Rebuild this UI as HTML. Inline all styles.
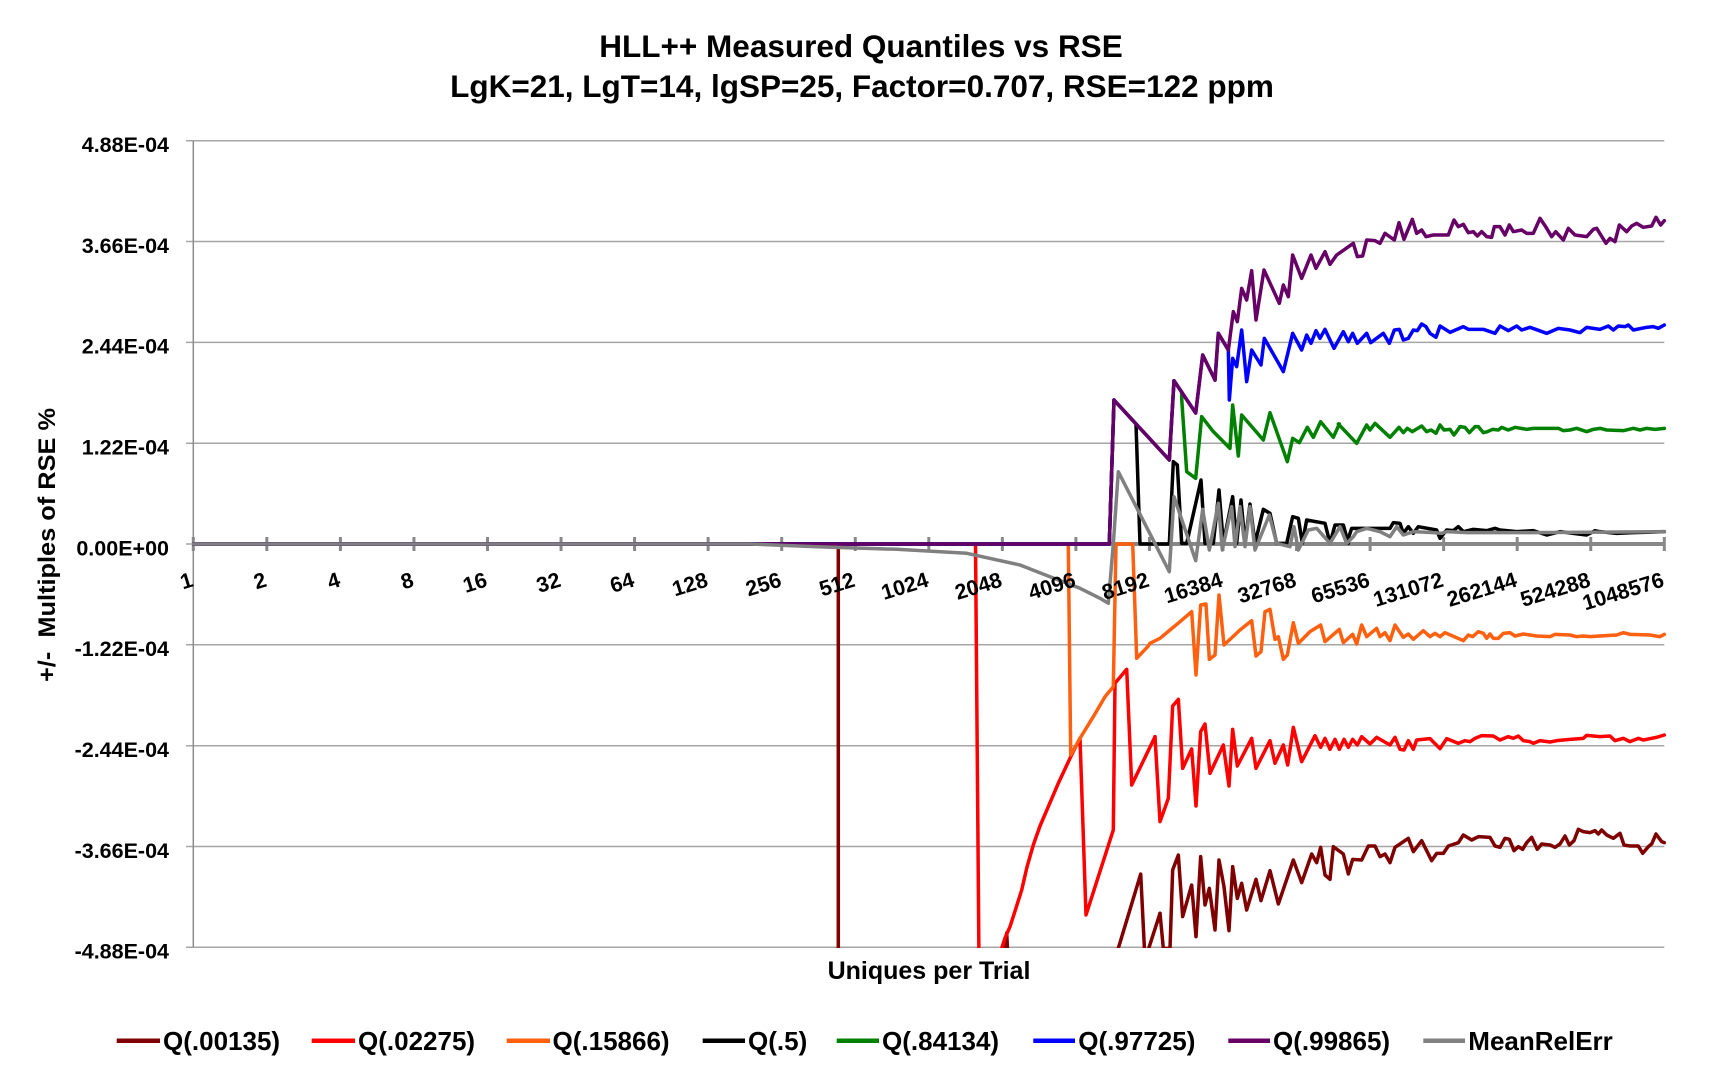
<!DOCTYPE html>
<html>
<head>
<meta charset="utf-8">
<style>
  html,body{margin:0;padding:0;background:#fff;}
  svg{display:block;}
  text{font-family:"Liberation Sans",Arial,sans-serif;font-weight:bold;fill:#000;}
  .s{fill:none;stroke-width:3.5;stroke-linejoin:round;stroke-linecap:round;}
  .grid{stroke:#a6a6a6;stroke-width:1.5;}
</style>
</head>
<body>
<svg width="1723" height="1085" viewBox="0 0 1723 1085" xmlns="http://www.w3.org/2000/svg">
  <rect x="0" y="0" width="1723" height="1085" fill="#fff"/>
  <defs>
    <clipPath id="plot"><rect x="192" y="130" width="1475" height="818"/></clipPath>
  </defs>

  <!-- Title -->
  <text x="861" y="57" font-size="31.5" text-anchor="middle">HLL++ Measured Quantiles vs RSE</text>
  <text x="862" y="97" font-size="31.5" text-anchor="middle">LgK=21, LgT=14, lgSP=25, Factor=0.707, RSE=122 ppm</text>

  <!-- Gridlines -->
  <g class="grid">
    <line x1="186" y1="140.7" x2="1664.3" y2="140.7"/>
    <line x1="186" y1="241.5" x2="1664.3" y2="241.5"/>
    <line x1="186" y1="342.4" x2="1664.3" y2="342.4"/>
    <line x1="186" y1="443.2" x2="1664.3" y2="443.2"/>
    <line x1="186" y1="544" x2="193" y2="544"/>
    <line x1="186" y1="644.8" x2="1664.3" y2="644.8"/>
    <line x1="186" y1="745.7" x2="1664.3" y2="745.7"/>
    <line x1="186" y1="846.5" x2="1664.3" y2="846.5"/>
    <line x1="186" y1="947.3" x2="1664.3" y2="947.3"/>
  </g>
  <!-- Y axis -->
  <line x1="193.3" y1="140.7" x2="193.3" y2="947.3" stroke="#8c8c8c" stroke-width="1.5"/>

  <!-- Y tick labels -->
  <g font-size="21.5" text-anchor="end">
    <text x="169" y="152">4.88E-04</text>
    <text x="169" y="252.8">3.66E-04</text>
    <text x="169" y="353.7">2.44E-04</text>
    <text x="169" y="454.5">1.22E-04</text>
    <text x="169" y="555.3">0.00E+00</text>
    <text x="169" y="656.1">-1.22E-04</text>
    <text x="169" y="757">-2.44E-04</text>
    <text x="169" y="857.8">-3.66E-04</text>
    <text x="169" y="958.6">-4.88E-04</text>
  </g>

  <!-- Y axis title -->
  <text transform="translate(55,545) rotate(-90)" font-size="24" text-anchor="middle" textLength="274" lengthAdjust="spacingAndGlyphs">+/-&#160; Multiples of RSE %</text>

  <!-- X axis (zero line) -->
  <line x1="193.3" y1="544" x2="1664.3" y2="544" stroke="#888" stroke-width="4"/>
  <g stroke="#888" stroke-width="3">
    <line x1="193.3" y1="537" x2="193.3" y2="551"/>
    <line x1="266.85" y1="537" x2="266.85" y2="551"/>
    <line x1="340.4" y1="537" x2="340.4" y2="551"/>
    <line x1="413.95" y1="537" x2="413.95" y2="551"/>
    <line x1="487.5" y1="537" x2="487.5" y2="551"/>
    <line x1="561.05" y1="537" x2="561.05" y2="551"/>
    <line x1="634.6" y1="537" x2="634.6" y2="551"/>
    <line x1="708.15" y1="537" x2="708.15" y2="551"/>
    <line x1="781.7" y1="537" x2="781.7" y2="551"/>
    <line x1="855.25" y1="537" x2="855.25" y2="551"/>
    <line x1="928.8" y1="537" x2="928.8" y2="551"/>
    <line x1="1002.35" y1="537" x2="1002.35" y2="551"/>
    <line x1="1075.9" y1="537" x2="1075.9" y2="551"/>
    <line x1="1149.45" y1="537" x2="1149.45" y2="551"/>
    <line x1="1223" y1="537" x2="1223" y2="551"/>
    <line x1="1296.55" y1="537" x2="1296.55" y2="551"/>
    <line x1="1370.1" y1="537" x2="1370.1" y2="551"/>
    <line x1="1443.65" y1="537" x2="1443.65" y2="551"/>
    <line x1="1517.2" y1="537" x2="1517.2" y2="551"/>
    <line x1="1590.75" y1="537" x2="1590.75" y2="551"/>
    <line x1="1664.3" y1="537" x2="1664.3" y2="551"/>
  </g>

  <!-- Series -->
  <g clip-path="url(#plot)">
    <!-- Q(.00135) dark red -->
    <g stroke="#7f0000">
      <path class="s" d="M193.3,544 H838.3 V1000 H1000 L1006.7,933 L1010,1000 H1112 L1118.3,948.3 L1140.7,874 L1145,960 L1160,913.3"/>
      <g transform="translate(1150,590) scale(0.333333)">
        <path class="s" vector-effect="non-scaling-stroke" d="M30,970 L40,1075 L60,1075 L68,840 L85,795 L98,980 L125,885 L138,1040 L152,800 L165,945 L178,895 L195,1020 L207,810 L222,890 L237,1022 L248,830 L262,925 L275,880 L290,960 L318,868 L333,932 L360,842 L385,942 L430,810 L455,878 L485,792 L500,818 L512,772 L525,855 L540,868 L550,770 L580,792 L595,852 L608,808 L635,810 L655,768 L675,768 L690,800 L705,792 L720,818 L735,772 L775,745 L790,785 L815,752 L845,812 L860,790 L880,790 L895,768 L925,758 L940,735 L965,750 L985,740 L1020,742 L1035,768 L1050,772 L1065,745 L1078,748 L1092,782 L1105,770 L1118,778 L1130,758 L1145,742 L1162,778 L1175,762 L1200,765 L1215,772 L1230,762 L1245,738 L1258,765 L1272,752 L1285,718 L1300,725 L1320,728 L1335,722 L1345,732 L1355,720 L1370,735 L1390,745 L1410,730 L1422,765 L1440,768 L1465,768 L1478,790 L1495,770 L1505,762 L1518,732 L1535,755 L1543,758"/>
      </g>
    </g>

    <!-- Q(.02275) red -->
    <g stroke="#ff0000">
      <path class="s" d="M193.3,544 H975.5 L979.3,1000 H998 L1001.7,948.3 L1005,938 L1010,926.7 L1016,908 L1021.7,890 L1027,867 L1033.3,845 L1040,826 L1048.3,806.7 L1058.3,783.3 L1065,769 L1070,758.3 L1075,748 L1080,738.3 L1086,915 L1113.3,830 L1115,683.3 L1126.7,669.3 L1131.7,785 L1155,736.7"/>
      <g transform="translate(1150,590) scale(0.333333)">
        <path class="s" vector-effect="non-scaling-stroke" d="M15,440 L30,695 L55,625 L68,348 L85,328 L98,535 L125,477 L138,648 L152,425 L165,402 L180,550 L220,465 L237,588 L248,418 L262,528 L305,445 L318,535 L360,452 L375,520 L400,465 L413,525 L430,412 L455,515 L495,437 L512,472 L525,445 L540,478 L555,448 L568,478 L582,448 L595,472 L608,448 L622,465 L635,440 L660,462 L680,442 L720,465 L735,442 L750,478 L762,480 L775,452 L790,478 L800,450 L840,446 L870,476 L890,446 L925,460 L945,452 L960,455 L975,445 L995,437 L1030,438 L1050,450 L1075,440 L1090,445 L1105,438 L1120,452 L1140,455 L1150,460 L1170,452 L1200,456 L1220,452 L1260,448 L1300,445 L1310,436 L1350,440 L1380,438 L1395,452 L1420,445 L1440,455 L1465,445 L1480,450 L1520,442 L1543,435"/>
      </g>
    </g>

    <!-- Q(.15866) orange -->
    <g stroke="#ff6010">
      <path class="s" d="M193.3,544 H1068.3 L1070.7,755 L1080,738.3 L1093.3,716.7 L1105,696.7 L1113.3,686.7 L1116,544 H1132.7 L1136.7,658.3 L1148.3,646 L1150,643.3"/>
      <g transform="translate(1150,590) scale(0.333333)">
        <path class="s" vector-effect="non-scaling-stroke" d="M0,160 L30,145 L60,120 L90,95 L125,65 L138,255 L152,45 L168,42 L178,208 L195,195 L207,15 L222,165 L270,120 L305,92 L318,198 L333,185 L345,65 L360,58 L375,148 L385,140 L400,208 L412,195 L430,98 L445,160 L480,125 L512,105 L525,155 L568,118 L580,158 L608,133 L620,162 L635,105 L650,140 L680,115 L690,140 L705,128 L720,152 L735,105 L760,142 L775,132 L790,148 L820,122 L840,140 L855,130 L870,140 L885,128 L940,152 L955,135 L968,140 L985,125 L1000,130 L1010,145 L1020,132 L1030,145 L1045,145 L1060,130 L1080,128 L1095,138 L1120,132 L1160,138 L1200,140 L1215,133 L1260,135 L1280,140 L1300,138 L1320,140 L1380,136 L1400,135 L1420,128 L1440,133 L1500,135 L1530,140 L1543,133"/>
      </g>
    </g>

    <!-- Q(.5) black -->
    <g stroke="#000000">
      <path class="s" d="M193.3,544 H1109.3 L1114,400 L1136,424 L1140,544 H1169.3"/>
      <g transform="translate(1050,350) scale(0.333333)">
        <path class="s" vector-effect="non-scaling-stroke" d="M358,580 L370,335 L382,345 L395,580 L410,580 L453,390 L465,580 L490,580 L507,420 L520,580 L548,440 L560,580 L573,450 L585,580 L600,462 L615,580 L640,478 L660,490 L680,580 L710,580 L728,500 L745,505 L757,580 L770,510 L825,520 L840,580 L855,525 L880,525 L895,580"/>
      </g>
      <g transform="translate(1200,180) scale(0.333333)">
        <path class="s" vector-effect="non-scaling-stroke" d="M440,1090 L455,1045 L500,1045 L570,1045 L580,1028 L600,1030 L610,1060 L625,1040 L640,1060 L655,1040 L710,1050 L720,1075 L740,1050 L760,1052 L775,1040 L790,1055 L820,1048 L860,1052 L885,1045 L900,1050 L950,1055 L1000,1052 L1040,1065 L1080,1055 L1120,1060 L1160,1065 L1185,1052 L1200,1055 L1250,1060 L1300,1058 L1393,1055"/>
      </g>
    </g>

    <!-- Q(.84134) green -->
    <g stroke="#008000">
      <path class="s" d="M193.3,544 H1109.3 L1114,400 L1169.3,460 L1174,380.7 L1181.7,392"/>
      <g transform="translate(1050,350) scale(0.333333)">
        <path class="s" vector-effect="non-scaling-stroke" d="M395,126 L395,145 L410,365 L437,385 L455,200 L490,245 L540,295 L548,165 L565,318 L575,195 L640,270 L660,188 L712,335 L728,265 L748,278 L772,232 L790,262 L812,215 L850,262 L868,222"/>
      </g>
      <g transform="translate(1200,180) scale(0.333333)">
        <path class="s" vector-effect="non-scaling-stroke" d="M415,732 L470,790 L500,735 L510,750 L525,730 L570,772 L597,742 L610,758 L622,745 L637,755 L665,738 L680,755 L693,750 L708,760 L720,735 L732,750 L750,748 L762,765 L780,740 L795,742 L808,758 L825,740 L835,740 L850,758 L862,755 L878,748 L895,750 L905,742 L925,750 L945,742 L980,748 L1000,745 L1075,745 L1090,752 L1110,750 L1130,745 L1160,755 L1180,748 L1200,745 L1220,750 L1270,752 L1300,745 L1320,750 L1340,745 L1365,748 L1393,745"/>
      </g>
    </g>

    <!-- Q(.97725) blue -->
    <g stroke="#0000ff">
      <path class="s" d="M193.3,544 H1109.3 L1114,400 L1169.3,460 L1174,380.7 L1195.7,413 L1202.7,355 L1215,380 L1218.3,333.3 L1228.3,350"/>
      <g transform="translate(1200,180) scale(0.333333)">
        <path class="s" vector-effect="non-scaling-stroke" d="M85,510 L88,660 L98,535 L110,560 L125,450 L140,605 L155,510 L183,555 L193,475 L250,575 L278,460 L305,510 L320,465 L333,490 L348,452 L360,475 L375,448 L402,505 L430,455 L445,485 L458,460 L472,490 L500,460 L512,488 L550,460 L568,490 L583,450 L598,448 L610,480 L625,475 L640,450 L652,452 L665,432 L678,440 L690,460 L708,472 L720,438 L750,457 L790,440 L805,448 L850,448 L885,460 L900,438 L925,452 L950,438 L965,450 L990,442 L1040,460 L1075,445 L1110,450 L1140,458 L1160,442 L1200,448 L1225,438 L1240,450 L1255,438 L1275,440 L1285,435 L1300,450 L1340,442 L1360,440 L1375,445 L1393,435"/>
      </g>
    </g>

    <!-- Q(.99865) purple -->
    <g stroke="#660066">
      <path class="s" d="M193.3,544 H1109.3 L1114,400 L1169.3,460 L1174,380.7 L1195.7,413 L1202.7,355 L1215,380"/>
      <g transform="translate(1200,180) scale(0.333333)">
        <path class="s" vector-effect="non-scaling-stroke" d="M45,600 L55,460 L85,510 L100,395 L112,425 L125,325 L140,360 L155,272 L168,420 L192,270 L238,370 L250,315 L265,350 L278,225 L305,295 L333,225 L348,265 L375,215 L390,253 L410,225 L460,190 L472,230 L488,228 L500,180 L525,182 L540,190 L555,160 L583,180 L597,128 L612,178 L637,118 L650,160 L665,150 L678,170 L700,165 L745,165 L762,120 L775,140 L790,133 L805,158 L820,155 L832,168 L845,155 L860,170 L875,172 L883,140 L900,140 L915,165 L928,135 L940,155 L965,150 L980,160 L1000,160 L1020,115 L1037,140 L1055,170 L1067,155 L1090,180 L1105,145 L1125,165 L1160,170 L1180,148 L1190,145 L1218,190 L1230,175 L1245,185 L1258,135 L1280,155 L1295,138 L1310,130 L1330,142 L1355,138 L1368,112 L1382,135 L1393,122"/>
      </g>
    </g>

    <!-- MeanRelErr gray -->
    <g stroke="#808080">
      <path class="s" d="M193.3,544 H750 L816.7,546.7 L896.7,549.3 L966.7,553.3 L1020,565 L1050,576.7 L1080,588.3 L1100,598.3 L1108.3,603.3 L1113.3,544 L1118.3,471.7 L1169.3,571.7 L1174,496.7 L1195.7,560.7 L1202.7,509.3"/>
      <g transform="translate(1050,350) scale(0.333333)">
        <path class="s" vector-effect="non-scaling-stroke" d="M458,478 L478,600 L505,460 L517,600 L545,470 L555,590 L570,470 L585,590 L600,470 L615,600 L658,495 L680,580 L720,590 L732,530 L745,600 L775,540 L800,535 L840,580"/>
      </g>
      <g transform="translate(1200,180) scale(0.333333)">
        <path class="s" vector-effect="non-scaling-stroke" d="M390,1090 L420,1040 L440,1090 L460,1070 L470,1055 L500,1045 L540,1055 L570,1070 L590,1040 L610,1065 L640,1055 L700,1058 L725,1060 L740,1055 L800,1058 L900,1058 L1000,1058 L1393,1055"/>
      </g>
    </g>
  </g>

  <!-- X category labels -->
  <g font-size="21.5" text-anchor="end">
    <text x="194.3" y="586" transform="rotate(-17 194.3 586)">1</text>
    <text x="267.85" y="586" transform="rotate(-17 267.85 586)">2</text>
    <text x="341.4" y="586" transform="rotate(-17 341.4 586)">4</text>
    <text x="414.95" y="586" transform="rotate(-17 414.95 586)">8</text>
    <text x="488.5" y="586" transform="rotate(-17 488.5 586)">16</text>
    <text x="562.05" y="586" transform="rotate(-17 562.05 586)">32</text>
    <text x="635.6" y="586" transform="rotate(-17 635.6 586)">64</text>
    <text x="709.15" y="586" transform="rotate(-17 709.15 586)">128</text>
    <text x="782.7" y="586" transform="rotate(-17 782.7 586)">256</text>
    <text x="856.25" y="586" transform="rotate(-17 856.25 586)">512</text>
    <text x="929.8" y="586" transform="rotate(-17 929.8 586)">1024</text>
    <text x="1003.35" y="586" transform="rotate(-17 1003.35 586)">2048</text>
    <text x="1076.9" y="586" transform="rotate(-17 1076.9 586)">4096</text>
    <text x="1150.45" y="586" transform="rotate(-17 1150.45 586)">8192</text>
    <text x="1224" y="586" transform="rotate(-17 1224 586)">16384</text>
    <text x="1297.55" y="586" transform="rotate(-17 1297.55 586)">32768</text>
    <text x="1371.1" y="586" transform="rotate(-17 1371.1 586)">65536</text>
    <text x="1444.65" y="586" transform="rotate(-17 1444.65 586)">131072</text>
    <text x="1518.2" y="586" transform="rotate(-17 1518.2 586)">262144</text>
    <text x="1591.75" y="586" transform="rotate(-17 1591.75 586)">524288</text>
    <text x="1665.3" y="586" transform="rotate(-17 1665.3 586)">1048576</text>
  </g>

  <!-- X axis title -->
  <text x="929" y="979" font-size="25" text-anchor="middle">Uniques per Trial</text>

  <!-- Legend -->
  <g stroke-width="4.5" stroke-linecap="butt">
    <line x1="116.7" y1="1040.7" x2="160" y2="1040.7" stroke="#7f0000"/>
    <line x1="311.7" y1="1040.7" x2="355" y2="1040.7" stroke="#ff0000"/>
    <line x1="506.7" y1="1040.7" x2="550" y2="1040.7" stroke="#ff6010"/>
    <line x1="702.7" y1="1040.7" x2="745" y2="1040.7" stroke="#000000"/>
    <line x1="836.7" y1="1040.7" x2="879" y2="1040.7" stroke="#008000"/>
    <line x1="1033.3" y1="1040.7" x2="1075" y2="1040.7" stroke="#0000ff"/>
    <line x1="1228.3" y1="1040.7" x2="1270" y2="1040.7" stroke="#660066"/>
    <line x1="1423.3" y1="1040.7" x2="1465" y2="1040.7" stroke="#808080"/>
  </g>
  <g font-size="26">
    <text x="163" y="1050">Q(.00135)</text>
    <text x="358" y="1050">Q(.02275)</text>
    <text x="552.5" y="1050">Q(.15866)</text>
    <text x="748" y="1050">Q(.5)</text>
    <text x="882" y="1050">Q(.84134)</text>
    <text x="1078.3" y="1050">Q(.97725)</text>
    <text x="1273" y="1050">Q(.99865)</text>
    <text x="1468.3" y="1050">MeanRelErr</text>
  </g>
</svg>
</body>
</html>
